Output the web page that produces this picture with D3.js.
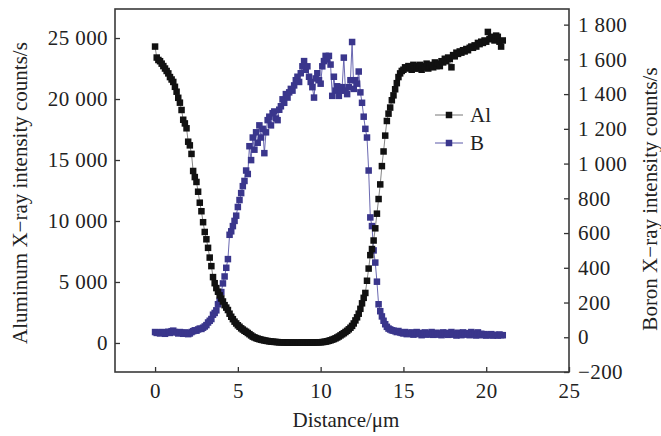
<!DOCTYPE html>
<html lang="en">
<head>
<meta charset="UTF-8" />
<title>Al / B line scan</title>
<script src="https://d3js.org/d3.v7.min.js"></script>
<style>
  html, body { margin: 0; padding: 0; background: #fff; }
  svg { display: block; font-family: "Liberation Serif", "Times New Roman", serif; }
  .tick text { fill: #222; font-size: 21px; letter-spacing: 0.4px; }
  .tick line { stroke: #333; stroke-width: 1.3; }
  .title { fill: #222; font-size: 21px; }
</style>
</head>
<body>
<div id="chart"></div>
<script>
  // distance along the scan, um
  const distance = [
    0,0.1,0.2,0.3,0.4,0.5,0.6,0.7,0.8,0.9,
    1,1.1,1.2,1.3,1.4,1.5,1.6,1.7,1.8,1.9,
    2,2.1,2.2,2.3,2.4,2.5,2.6,2.7,2.8,2.9,
    3,3.1,3.2,3.3,3.4,3.5,3.6,3.7,3.8,3.9,
    4,4.1,4.2,4.3,4.4,4.5,4.6,4.7,4.8,4.9,
    5,5.1,5.2,5.3,5.4,5.5,5.6,5.7,5.8,5.9,
    6,6.1,6.2,6.3,6.4,6.5,6.6,6.7,6.8,6.9,
    7,7.1,7.2,7.3,7.4,7.5,7.6,7.7,7.8,7.9,
    8,8.1,8.2,8.3,8.4,8.5,8.6,8.7,8.8,8.9,
    9,9.1,9.2,9.3,9.4,9.5,9.6,9.7,9.8,9.9,
    10,10.1,10.2,10.3,10.4,10.5,10.6,10.7,10.8,10.9,
    11,11.1,11.2,11.3,11.4,11.5,11.6,11.7,11.8,11.9,
    12,12.1,12.2,12.3,12.4,12.5,12.6,12.7,12.8,12.9,
    13,13.1,13.2,13.3,13.4,13.5,13.6,13.7,13.8,13.9,
    14,14.1,14.2,14.3,14.4,14.5,14.6,14.7,14.8,14.9,
    15,15.1,15.2,15.3,15.4,15.5,15.6,15.7,15.8,15.9,
    16,16.1,16.2,16.3,16.4,16.5,16.6,16.7,16.8,16.9,
    17,17.1,17.2,17.3,17.4,17.5,17.6,17.7,17.8,17.9,
    18,18.1,18.2,18.3,18.4,18.5,18.6,18.7,18.8,18.9,
    19,19.1,19.2,19.3,19.4,19.5,19.6,19.7,19.8,19.9,
    20,20.1,20.2,20.3,20.4,20.5,20.6,20.7,20.8,20.9,
    21
  ];

  // aluminum counts/s (left axis)
  const alCounts = [
    24300,23400,23200,23100,22900,22700,22500,22300,22100,21800,
    21600,21400,21000,20600,20100,19700,19100,18300,18000,17600,
    16500,16200,15500,14100,13600,13200,12400,11500,10800,9900,
    9100,8500,7800,7000,6300,5400,4900,4500,4200,3900,
    3650,3400,3100,2900,2700,2400,2150,1950,1750,1600,
    1450,1330,1200,1100,1000,920,820,720,620,520,
    460,400,350,310,270,240,210,180,160,140,
    120,100,90,80,70,60,55,50,45,40,
    35,30,30,25,30,20,30,25,30,35,
    30,25,35,30,40,35,40,45,50,60,
    60,70,90,110,140,180,220,270,320,380,
    450,530,620,710,800,900,1000,1120,1250,1400,
    1600,1850,2100,2400,2800,3250,3700,4100,5100,6100,
    7200,7700,8400,9400,10600,11800,13000,14500,15700,17000,
    18200,18800,19300,19900,20300,20800,21300,21800,22100,22300,
    22400,22600,22500,22700,22600,22400,22800,22500,22700,22500,
    22800,22400,22700,22600,22900,22500,22700,22800,22600,23000,
    22700,22900,22700,23100,23000,23300,23100,23400,23300,22600,
    23600,23500,23800,23700,23900,23800,24000,23900,24100,24000,
    24200,24300,24200,24400,24300,24600,24500,24700,24600,24800,
    24700,25500,24900,25100,25000,24800,25200,25100,24700,24300,
    24800
  ];

  // boron counts/s (right axis)
  const bCounts = [
    30,25,28,22,30,26,20,28,32,25,
    35,38,30,28,22,30,25,20,28,24,
    18,22,30,35,40,38,45,50,48,55,
    62,70,85,95,105,130,140,155,190,210,
    260,310,350,400,450,590,610,640,670,700,
    750,790,830,870,900,960,940,1100,1020,1150,
    1080,1180,1120,1220,1150,1200,1060,1180,1250,1270,
    1220,1290,1300,1260,1250,1310,1330,1370,1350,1400,
    1380,1410,1430,1420,1450,1480,1500,1470,1520,1560,
    1590,1540,1560,1500,1470,1440,1380,1490,1520,1480,
    1460,1560,1590,1620,1600,1620,1570,1390,1500,1420,
    1445,1390,1420,1440,1610,1420,1400,1440,1480,1700,
    1430,1480,1460,1530,1410,1350,1270,1200,1150,960,
    690,640,500,430,320,190,150,120,95,75,
    60,50,45,40,38,35,30,36,28,25,
    22,30,18,25,20,28,15,22,30,18,
    25,12,20,28,15,22,18,30,14,20,
    26,15,22,12,28,18,25,14,20,30,
    15,22,10,26,18,12,28,15,20,24,
    12,30,16,22,10,28,14,20,12,18,
    10,15,12,18,10,14,12,10,16,12,
    12
  ];

  const xTicks = [0, 5, 10, 15, 20, 25];
  const leftTicks = [0, 5000, 10000, 15000, 20000, 25000];
  const leftTickLabels = ['0', '5 000', '10 000', '15 000', '20 000', '25 000'];
  const rightTicks = [-200, 0, 200, 400, 600, 800, 1000, 1200, 1400, 1600, 1800];
  const rightTickLabels = ['\u2212200', '0', '200', '400', '600', '800', '1 000', '1 200', '1 400', '1 600', '1 800'];
  const seriesNames = ['Al', 'B'];

  const W = 661, H = 436;
  const box = {left: 115, right: 569, top: 9, bottom: 372};
  const mark = 6.5;

  const x = d3.scaleLinear().domain([-2.42, 25]).range([box.left, box.right]);
  const yL = d3.scaleLinear().domain([-2380, 27380]).range([box.bottom, box.top]);
  const yR = d3.scaleLinear().domain([-200, 1890]).range([box.bottom, box.top]);

  const svg = d3.select('#chart').append('svg').attr('width', W).attr('height', H);

  // axes, ticks pointing into the plot
  const gx = svg.append('g').attr('transform', `translate(0,${box.bottom})`)
    .call(d3.axisBottom(x).tickValues(xTicks).tickSizeInner(-5).tickSizeOuter(0).tickPadding(11));
  const gl = svg.append('g').attr('transform', `translate(${box.left},0)`)
    .call(d3.axisLeft(yL).tickValues(leftTicks).tickFormat((d, i) => leftTickLabels[i])
      .tickSizeInner(-5).tickSizeOuter(0).tickPadding(7));
  const gr = svg.append('g').attr('transform', `translate(${box.right},0)`)
    .call(d3.axisRight(yR).tickValues(rightTicks).tickFormat((d, i) => rightTickLabels[i])
      .tickSizeInner(-5).tickSizeOuter(0).tickPadding(9));
  [gx, gl, gr].forEach(g => {
    g.select('.domain').remove();
    g.attr('font-family', null).attr('font-size', null);
  });

  const colors = {Al: '#111111', B: '#3a368c'};
  const lineColors = {Al: '#777777', B: '#5a58a8'};

  const bData = distance.map((d, i) => ({d, v: bCounts[i]}));
  const alData = distance.map((d, i) => ({d, v: alCounts[i]}));

  function drawSeries(data, yScale, name) {
    svg.append('path').datum(data)
      .attr('fill', 'none').attr('stroke', lineColors[name]).attr('stroke-width', 0.9)
      .attr('d', d3.line().x(p => x(p.d)).y(p => yScale(p.v)));
    svg.append('g').selectAll('rect').data(data).join('rect')
      .attr('x', p => x(p.d) - mark / 2).attr('y', p => yScale(p.v) - mark / 2)
      .attr('width', mark).attr('height', mark)
      .attr('fill', colors[name]);
  }
  drawSeries(bData, yR, 'B');
  drawSeries(alData, yL, 'Al');

  // frame
  svg.append('rect')
    .attr('x', box.left).attr('y', box.top)
    .attr('width', box.right - box.left).attr('height', box.bottom - box.top)
    .attr('fill', 'none').attr('stroke', '#3a3a3a').attr('stroke-width', 1.6);

  // legend
  const legend = svg.append('g').attr('transform', 'translate(435,115)');
  seriesNames.forEach((name, i) => {
    const g = legend.append('g').attr('transform', `translate(0,${i * 28})`);
    g.append('line').attr('x1', 0).attr('x2', 28).attr('y1', 0).attr('y2', 0)
      .attr('stroke', lineColors[name]).attr('stroke-width', 1);
    g.append('rect').attr('x', 14 - mark / 2).attr('y', -mark / 2).attr('width', mark).attr('height', mark)
      .attr('fill', colors[name]);
    g.append('text').attr('class', 'title').attr('x', 35).attr('y', 7)
      .text(name);
  });

  // axis titles
  svg.append('text').attr('class', 'title').attr('text-anchor', 'middle')
    .attr('x', 346).attr('y', 427).text('Distance/\u03bcm');
  svg.append('text').attr('class', 'title').attr('text-anchor', 'middle')
    .attr('transform', 'translate(27,193) rotate(-90)')
    .text('Aluminum X\u2212ray intensity counts/s');
  svg.append('text').attr('class', 'title').attr('text-anchor', 'middle')
    .attr('transform', 'translate(657,199) rotate(-90)')
    .text('Boron X\u2212ray intensity counts/s');
</script>
</body>
</html>
